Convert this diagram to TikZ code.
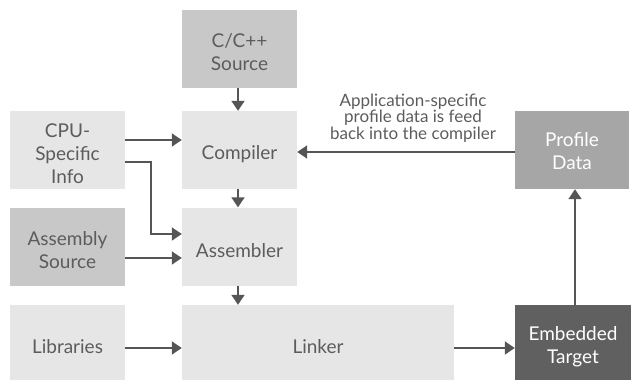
\documentclass[tikz,border=0pt]{standalone}
\usepackage{fontspec}
\setmainfont{Lato}
\usetikzlibrary{arrows.meta}
\definecolor{lightbox}{HTML}{E6E6E7}
\definecolor{midbox}{HTML}{C8C8C8}
\definecolor{profbox}{HTML}{A6A6A6}
\definecolor{darkbox}{HTML}{606060}
\definecolor{txt}{HTML}{5C5C5C}
\definecolor{arr}{HTML}{555555}
\tikzset{
  box/.style={draw=none, minimum width=115pt, minimum height=78pt, inner sep=0pt, align=center,
    text=txt, font=\fontsize{19}{23}\selectfont},
  oneline/.style={text height=23pt},
  twolines/.style={text height=45pt},
  threelines/.style={text height=68pt},
  light/.style={box, fill=lightbox},
  mid/.style={box, fill=midbox},
  prof/.style={box, fill=profbox, text=white, text height=39pt},
  dark/.style={box, fill=darkbox, text=white},
  conn/.style={draw=arr, line width=1.8pt, -{Triangle[length=10pt,width=13pt]}},
}
\begin{document}
\begin{tikzpicture}[x=1pt,y=-1pt]
\useasboundingbox (0,0) rectangle (631,380);
\node[mid, twolines]   (src)  at (239.5,48.5) {C/C++\\Source};
\node[light, oneline] (comp) at (239.5,150) {Compiler};
\node[light, threelines] (cpu)  at (67.5,150) {CPU-\\Specific\\Info};
\node[mid, twolines]   (asrc) at (67.5,246.5) {Assembly\\Source};
\node[light, oneline] (asm)  at (239.5,246.5) {Assembler};
\node[light, oneline, minimum height=75pt] (lib) at (67.5,342.5) {Libraries};
\node[light, oneline, minimum width=272pt, minimum height=75pt] (link) at (318,342.5) {Linker};
\node[dark, twolines, minimum width=116pt, minimum height=75pt] (emb) at (573,342.5) {Embedded\\Target};
\node[prof, minimum width=114pt] (prof) at (572,150) {Profile\\Data};
\node[text=txt, align=center, font=\fontsize{17}{15}\selectfont, inner sep=0pt] (lbl) at (413,118) {Application-specific\\profile data is feed\\back into the compiler};

\coordinate (bend1) at (151,162);
\coordinate (bend2) at (151,234);

\draw[conn] (src.south -| 238,0) -- (comp.north -| 238,0);
\draw[conn] (cpu.east |- 0,140) -- (comp.west |- 0,140);
\draw[conn] (cpu.east |- bend1) -- (bend1) -- (bend2) -- (asm.west |- bend2);
\draw[conn] (asrc.east |- 0,258) -- (asm.west |- 0,258);
\draw[conn] (comp.south -| 238,0) -- (asm.north -| 238,0);
\draw[conn] (asm.south -| 238,0) -- (link.north -| 238,0);
\draw[conn] (lib.east |- 0,348) -- (link.west |- 0,348);
\draw[conn] (link.east |- 0,348) -- (emb.west |- 0,348);
\draw[conn] (emb.north -| 575,0) -- (prof.south -| 575,0);
\draw[conn] (prof.west |- 0,152) -- (comp.east |- 0,152);
\end{tikzpicture}
\end{document}
